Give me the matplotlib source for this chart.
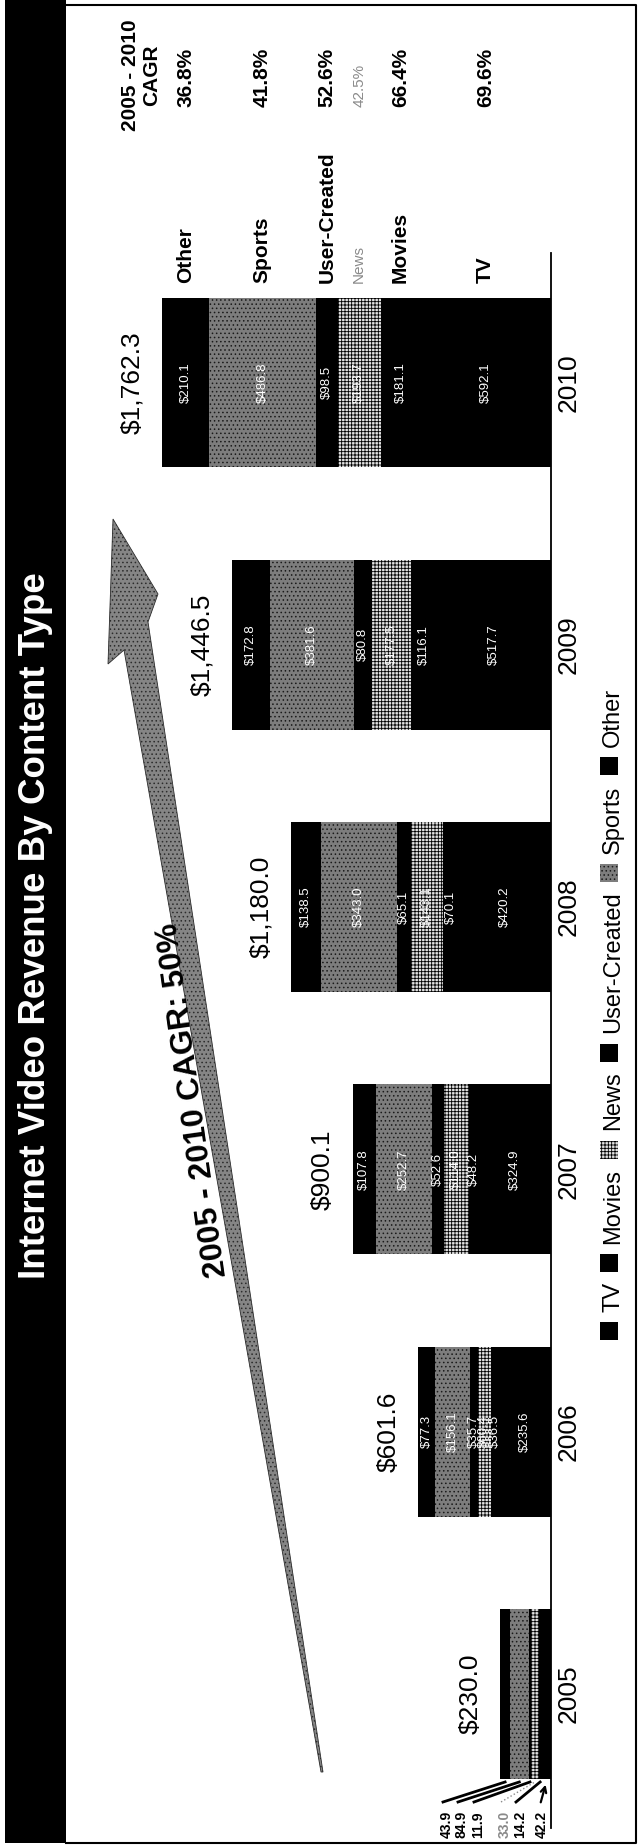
import numpy as np
import matplotlib
matplotlib.use("Agg")
import matplotlib.pyplot as plt
from matplotlib import transforms
from matplotlib.patches import Rectangle, Polygon

plt.rcParams['font.family'] = ['Liberation Sans', 'DejaVu Sans']
plt.rcParams['hatch.linewidth'] = 0.6

# revenue by content type, $M
years = ['2005', '2006', '2007', '2008', '2009', '2010']
series = ['TV', 'Movies', 'News', 'User-Created', 'Sports', 'Other']
tv = [42.2, 235.6, 324.9, 420.2, 517.7, 592.1]
movies = [14.2, 36.5, 48.2, 70.1, 116.1, 181.1]
news = [33.0, 60.4, 114.0, 143.1, 177.5, 193.7]
user_created = [11.9, 35.7, 52.6, 65.1, 80.8, 98.5]
sports = [84.9, 156.1, 252.7, 343.0, 381.6, 486.8]
other = [43.9, 77.3, 107.8, 138.5, 172.8, 210.1]
totals = [230.0, 601.6, 900.1, 1180.0, 1446.5, 1762.3]

values = [tv, movies, news, user_created, sports, other]

black = dict(facecolor='black', edgecolor='black')
styles = [black,
          black,
          dict(facecolor='#e2e2e2', edgecolor='black', hatch='+++++'),
          black,
          dict(facecolor='#7d7d7d', edgecolor='#1a1a1a', hatch='....'),
          black]

W, H = 642, 1845
BASE = 551          # x pixel of the bar base line
SCALE = 0.2205      # pixels per $M
ROW0 = 1694         # y pixel of the 2005 bar centre
ROW_STEP = 262.3
BAR_H = 0.648

fig = plt.figure(figsize=(W / 100, H / 100), dpi=100)
ax = fig.add_axes([0, 0, 1, 1])
ax.axis('off')
ax.set_xlim(BASE / SCALE, -(W - BASE) / SCALE)
ax.set_ylim((ROW0 - H) / ROW_STEP, ROW0 / ROW_STEP)

# pixel coordinates, origin top-left
px = transforms.Affine2D().scale(1 / W, -1 / H).translate(0, 1) + fig.transFigure
x_data_y_px = transforms.blended_transform_factory(ax.transData, px)
x_px_y_data = transforms.blended_transform_factory(px, ax.transData)

rot = dict(rotation=90, rotation_mode='anchor')

# stacked bars
y = np.arange(len(years))
left = np.zeros(len(years))
for vals, st in zip(values, styles):
    ax.barh(y, vals, left=left, height=BAR_H, linewidth=0, **st)
    for i, v in enumerate(vals):
        if i > 0:
            ax.text(left[i] + v / 2, i, f'${v:.1f}', color='white', fontsize=9.5,
                    ha='center', va='center', **rot)
    left += np.array(vals)

for i, t in enumerate(totals):
    ax.annotate(f'${t:,.1f}', xy=(left[i], i), xytext=(-30, 0),
                textcoords='offset pixels', fontsize=19, ha='center', va='center', **rot)
    ax.text(569, i, years[i], transform=x_px_y_data, fontsize=19,
            ha='center', va='center', **rot)

ax.plot([BASE, BASE], [253, 1828], transform=px, color='black', lw=1.3)

# title band and frame
ax.add_patch(Rectangle((5, 0), 61, 1843, transform=px, facecolor='black', lw=0))
ax.text(36, 926, 'Internet Video Revenue By Content Type', transform=px, color='white',
        fontsize=26.5, fontweight='bold', ha='center', va='center', rotation=90)
ax.plot([66, 635.5, 635.5, 66], [5, 5, 1843, 1843], transform=px, color='black', lw=1.5)

# growth arrow
arrow = [(113, 519), (158, 594), (148, 622), (323, 1772), (321, 1772),
         (124, 650), (108, 664)]
ax.add_patch(Polygon(arrow, closed=True, transform=px, facecolor='#858585',
                     edgecolor='#2c2c2c', hatch='....', lw=0.6))
cagr_all = (totals[-1] / totals[0]) ** (1 / 5) - 1
ax.text(193, 1100, f'{years[0]} - {years[-1]} CAGR: {cagr_all * 100:.0f}%', transform=px,
        fontsize=23, fontweight='bold', ha='center', va='center',
        rotation=98, rotation_mode='anchor')

# series names and CAGR beside the 2010 bar
ax.text(141, 75, '2005 - 2010\nCAGR', transform=px, fontsize=15, fontweight='bold',
        ha='center', va='center', multialignment='center', rotation=90)
start = 0
for name, vals in zip(series, values):
    xc = start + vals[-1] / 2
    start += vals[-1]
    cagr = (vals[-1] / vals[0]) ** (1 / 5) - 1
    if name == 'News':
        kw = dict(fontsize=11, color='#8a8a8a')
    else:
        kw = dict(fontsize=15, fontweight='bold')
    ax.text(xc, 283, name, transform=x_data_y_px, ha='left', va='center', **rot, **kw)
    ax.text(xc, 107, f'{cagr * 100:.1f}%', transform=x_data_y_px,
            ha='left', va='center', **rot, **kw)

# 2005 values with leader lines
label_x = [542, 520, 505, 478, 462, 447]
edge_y = ROW0 + ROW_STEP * BAR_H / 2 + 3
start = 0
for k, vals in enumerate(values):
    v = vals[0]
    seg_px = BASE - SCALE * (start + v / 2)
    start += v
    grey = series[k] == 'News'
    c = '#8a8a8a' if grey else 'black'
    ax.text(label_x[k], 1838, f'{v:.1f}', transform=px, fontsize=10, fontweight='bold',
            color=c, ha='left', va='center', **rot)
    if series[k] == 'TV':
        ax.annotate('', xy=(seg_px, edge_y), xytext=(label_x[k] - 2, 1805),
                    xycoords=px, textcoords=px,
                    arrowprops=dict(arrowstyle='->', lw=1.6, color='black'))
    else:
        ax.plot([label_x[k] - 4, seg_px], [1802, edge_y], transform=px, color=c,
                lw=1 if grey else 2, ls=':' if grey else '-')

# legend along the bottom of the slide
leg_texts = [ax.text(619, 0, name, transform=px, fontsize=17, ha='left',
                     va='baseline', **rot) for name in series]
renderer = fig.canvas.get_renderer()
lengths = [t.get_window_extent(renderer).height for t in leg_texts]
box = 18
leg_start, leg_end = 1340, 688
gap = (leg_start - leg_end - len(series) * box - sum(lengths)) / (2 * len(series) - 1)
cursor = leg_start
for t, ln, st in zip(leg_texts, lengths, styles):
    ax.add_patch(Rectangle((600, cursor - box), box, box, transform=px, lw=0, **st))
    cursor -= box + gap
    t.set_position((619, cursor))
    cursor -= ln + gap

fig.savefig('out.png', dpi=100)
